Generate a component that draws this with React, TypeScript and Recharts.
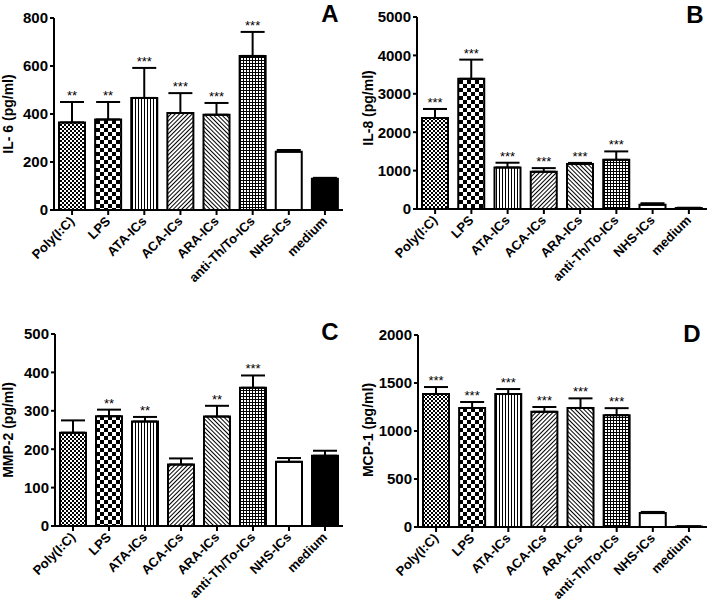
import { Bar, BarChart, Cell, ErrorBar, LabelList, XAxis, YAxis } from 'recharts';

const categories = ['Poly(I:C)', 'LPS', 'ATA-ICs', 'ACA-ICs', 'ARA-ICs', 'anti-Th/To-ICs', 'NHS-ICs', 'medium'];

// panel A - IL-6
const il6Means = [365, 377, 467, 404, 397, 642, 243, 130];
const il6Errors = [85, 73, 125, 83, 49, 100, 7, 4];
const il6Stars = ['**', '**', '***', '***', '***', '***', '', ''];
const il6Ticks = [0, 200, 400, 600, 800];

// panel B - IL-8
const il8Means = [2370, 3390, 1080, 970, 1170, 1280, 110, 25];
const il8Errors = [235, 500, 125, 95, 30, 220, 40, 8];
const il8Stars = ['***', '***', '***', '***', '***', '***', '', ''];
const il8Ticks = [0, 1000, 2000, 3000, 4000, 5000];

// panel C - MMP-2
const mmp2Means = [243, 286, 272, 160, 285, 360, 167, 183];
const mmp2Errors = [32, 17, 12, 16, 28, 32, 10, 13];
const mmp2Stars = ['', '**', '**', '', '**', '***', '', ''];
const mmp2Ticks = [0, 100, 200, 300, 400, 500];

// panel D - MCP-1
const mcp1Means = [1385, 1240, 1385, 1200, 1240, 1165, 145, 5];
const mcp1Errors = [73, 62, 52, 50, 100, 73, 12, 2];
const mcp1Stars = ['***', '***', '***', '***', '***', '***', '', ''];
const mcp1Ticks = [0, 500, 1000, 1500, 2000];

const FONT = '"Liberation Sans", Arial, sans-serif';

function Patterns({ p }: { p: string }) {
  return (
    <defs>
      <pattern id={`${p}-poly`} width={4} height={4} patternUnits="userSpaceOnUse">
        <rect width={4} height={4} fill="#fff" />
        <rect width={2} height={2} fill="#000" />
        <rect x={2} y={2} width={2} height={2} fill="#000" />
      </pattern>
      <pattern id={`${p}-lps`} width={8} height={8} patternUnits="userSpaceOnUse">
        <rect width={8} height={8} fill="#fff" />
        <rect width={4} height={4} fill="#000" />
        <rect x={4} y={4} width={4} height={4} fill="#000" />
      </pattern>
      <pattern id={`${p}-ata`} width={3} height={3} patternUnits="userSpaceOnUse">
        <rect width={3} height={3} fill="#fff" />
        <rect width={1} height={3} fill="#000" />
      </pattern>
      <pattern id={`${p}-aca`} width={3} height={3} patternUnits="userSpaceOnUse" patternTransform="rotate(45)">
        <rect width={3} height={3} fill="#fff" />
        <rect width={1} height={3} fill="#000" />
      </pattern>
      <pattern id={`${p}-ara`} width={3} height={3} patternUnits="userSpaceOnUse" patternTransform="rotate(-45)">
        <rect width={3} height={3} fill="#fff" />
        <rect width={1} height={3} fill="#000" />
      </pattern>
      <pattern id={`${p}-grid`} width={3} height={3} patternUnits="userSpaceOnUse">
        <rect width={3} height={3} fill="#fff" />
        <rect width={1} height={3} fill="#000" />
        <rect width={3} height={1} fill="#000" />
      </pattern>
    </defs>
  );
}

const fillFor = (p: string, i: number) =>
  [`url(#${p}-poly)`, `url(#${p}-lps)`, `url(#${p}-ata)`, `url(#${p}-aca)`, `url(#${p}-ara)`, `url(#${p}-grid)`, '#fff', '#000'][i];

const renderCategoryTick = (props: any) => {
  const { x, y, payload } = props;
  return (
    <g transform={`translate(${x + 3},${y + 5})`}>
      <text x={0} y={0} transform="rotate(-45)" textAnchor="end" fontSize={13} fontWeight="bold" fill="#000">
        {payload.value}
      </text>
    </g>
  );
};

interface PanelProps {
  id: string;
  left: number;
  top: number;
  height: number;
  means: number[];
  errors: number[];
  stars: string[];
  ticks: number[];
  marginTop: number;
  marginRight: number;
  yWidth: number;
  xHeight: number;
}

function Panel({ id, left, top, height, means, errors, stars, ticks, marginTop, marginRight, yWidth, xHeight }: PanelProps) {
  const data = categories.map((name, i) => ({
    name,
    value: means[i],
    err: [0, errors[i]],
    stars: stars[i],
  }));

  const renderStars = (props: any) => {
    const vb = props.viewBox || props;
    const i = props.index;
    if (!stars[i]) return null;
    const h = vb.height;
    const errTop = vb.y - (errors[i] * h) / means[i];
    return (
      <text x={vb.x + vb.width / 2} y={errTop - 2} textAnchor="middle" fontSize={13} fill="#000">
        {stars[i]}
      </text>
    );
  };

  return (
    <div style={{ position: 'absolute', left, top }}>
      <BarChart width={354} height={height} data={data} margin={{ top: marginTop, right: marginRight, left: 0, bottom: 0 }}>
        <Patterns p={id} />
        <XAxis
          dataKey="name"
          interval={0}
          tick={renderCategoryTick}
          tickSize={5}
          tickMargin={2}
          height={xHeight}
          axisLine={{ stroke: '#000', strokeWidth: 2 }}
          tickLine={{ stroke: '#000', strokeWidth: 2 }}
        />
        <YAxis
          type="number"
          domain={[ticks[0], ticks[ticks.length - 1]]}
          ticks={ticks}
          interval={0}
          width={yWidth}
          tickSize={4}
          tickMargin={2}
          axisLine={{ stroke: '#000', strokeWidth: 2 }}
          tickLine={{ stroke: '#000', strokeWidth: 2 }}
          tick={{ fontSize: 15, fontWeight: 'bold', fill: '#000' }}
        />
        <Bar dataKey="value" barSize={26} stroke="#000" strokeWidth={2} isAnimationActive={false}>
          {data.map((_, i) => (
            <Cell key={`c-${i}`} fill={fillFor(id, i)} />
          ))}
          <ErrorBar dataKey="err" width={12} strokeWidth={2} stroke="#000" direction="y" />
          <LabelList dataKey="stars" content={renderStars} />
        </Bar>
      </BarChart>
    </div>
  );
}

export default function App() {
  return (
    <div style={{ position: 'absolute', left: 0, top: 0, width: 709, height: 608, background: '#fff', fontFamily: FONT }}>
      <Panel id="a" left={0} top={0} height={300} means={il6Means} errors={il6Errors} stars={il6Stars} ticks={il6Ticks}
        marginTop={18} marginRight={11} yWidth={54} xHeight={90} />
      <Panel id="b" left={355} top={0} height={300} means={il8Means} errors={il8Errors} stars={il8Stars} ticks={il8Ticks}
        marginTop={17} marginRight={2} yWidth={62} xHeight={91} />
      <Panel id="c" left={0} top={300} height={308} means={mmp2Means} errors={mmp2Errors} stars={mmp2Stars} ticks={mmp2Ticks}
        marginTop={34} marginRight={11} yWidth={55} xHeight={82} />
      <Panel id="d" left={355} top={300} height={308} means={mcp1Means} errors={mcp1Errors} stars={mcp1Stars} ticks={mcp1Ticks}
        marginTop={35} marginRight={2} yWidth={63} xHeight={81} />
      <svg width={709} height={608} style={{ position: 'absolute', left: 0, top: 0, pointerEvents: 'none' }}>
        <g fontWeight="bold" fill="#000" fontSize={14} textAnchor="middle">
          <text x={13} y={114} transform="rotate(-90, 13, 114)">IL- 6 (pg/ml)</text>
          <text x={373} y={108} transform="rotate(-90, 373, 108)">IL-8 (pg/ml)</text>
          <text x={13} y={430} transform="rotate(-90, 13, 430)">MMP-2 (pg/ml)</text>
          <text x={373} y={430} transform="rotate(-90, 373, 430)">MCP-1 (pg/ml)</text>
        </g>
        <g fontWeight="bold" fill="#000" fontSize={24} textAnchor="middle">
          <text x={330} y={22}>A</text>
          <text x={695} y={23}>B</text>
          <text x={330} y={340}>C</text>
          <text x={692} y={342}>D</text>
        </g>
      </svg>
    </div>
  );
}
